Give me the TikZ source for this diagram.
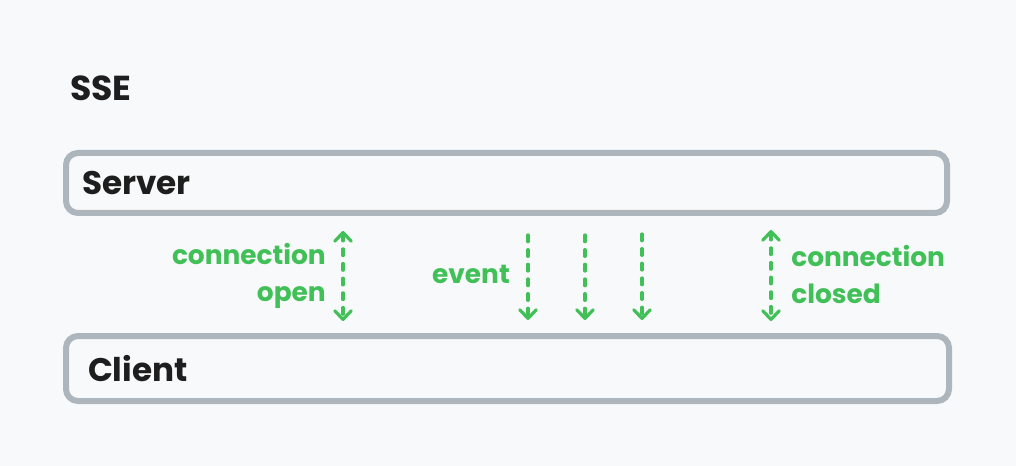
\documentclass[tikz,border=0pt]{standalone}
\usepackage{fontspec}
\setmainfont{Poppins}
\usetikzlibrary{arrows.meta}
\definecolor{bg}{HTML}{F8F9FA}
\definecolor{boxgray}{HTML}{ADB5BD}
\definecolor{grn}{HTML}{40C057}
\definecolor{ink}{HTML}{1E1E1E}
\begin{document}
\begin{tikzpicture}[x=0.75pt,y=-0.75pt,
  box/.style={draw=boxgray, line width=4.5pt, rounded corners=9pt, fill=bg,
    text=ink, font=\fontsize{24.5}{28}\selectfont\bfseries, align=left},
  title/.style={text=ink, font=\fontsize{26}{30}\selectfont\bfseries, inner sep=0pt},
  lbl/.style={text=grn, font=\fontsize{19.8}{27.75}\selectfont\bfseries, inner sep=0pt},
  tip/.style={Straight Barb[length=6.5pt,width=12.5pt,round]},
  sig/.style={draw=grn, line width=2.4pt, line cap=round, dash pattern=on 5pt off 6pt,
    arrows={-{Straight Barb[length=6.5pt,width=12.5pt,round]}}},
  bisig/.style={sig, arrows={{Straight Barb[length=6.5pt,width=12.5pt,round]}-{Straight Barb[length=6.5pt,width=12.5pt,round]}}}
]
\fill[bg] (0,0) rectangle (1016,466);
\useasboundingbox (0,0) rectangle (1016,466);

\node[title, anchor=west] (sse) at (70,88.5) {SSE};

\node[box, minimum width=660.75pt, minimum height=45pt, text width=636.75pt, inner xsep=12pt]
  (server) at (506.5,183) {Server};
\node[box, minimum width=662.25pt, minimum height=48.75pt, text width=629.25pt, inner xsep=16.5pt]
  (client) at (507.5,368.5) {Client};

\coordinate (o1) at (343,231);
\coordinate (o2) at (343,321);
\draw[bisig] (o1) -- (o2);
\node[lbl, anchor=east, align=right] (openlbl) at (326,276) {connection\\open};

\node[lbl, anchor=east] (evlbl) at (510,274) {event};
\coordinate (e1s) at (528,235);
\coordinate (e1e) at (528,320);
\coordinate (e2s) at (585,235);
\coordinate (e2e) at (585,320);
\coordinate (e3s) at (642,234);
\coordinate (e3e) at (642,320);
\draw[sig] (e1s) -- (e1e);
\draw[sig] (e2s) -- (e2e);
\draw[sig] (e3s) -- (e3e);

\coordinate (c1) at (771,230);
\coordinate (c2) at (771,321);
\draw[bisig] (c1) -- (c2);
\node[lbl, anchor=west, align=left] (closedlbl) at (791,275) {connection\\closed};
\end{tikzpicture}
\end{document}
